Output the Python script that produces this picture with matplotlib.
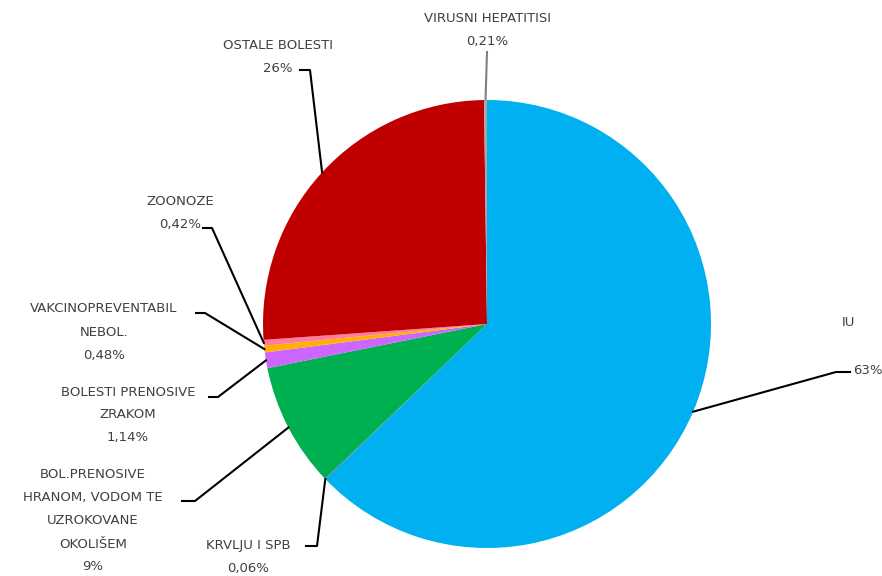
import numpy as np
import matplotlib.pyplot as plt

# share of reported cases by disease group
groups = ["IU", "KRVLJU I SPB", "BOL.PRENOSIVE\nHRANOM, VODOM TE\nUZROKOVANE\nOKOLIŠEM",
          "BOLESTI PRENOSIVE\nZRAKOM", "VAKCINOPREVENTABIL\nNEBOL.", "ZOONOZE",
          "OSTALE BOLESTI", "VIRUSNI HEPATITISI"]
shares = [63, 0.06, 9, 1.14, 0.48, 0.42, 26, 0.21]
share_labels = ["63%", "0,06%", "9%", "1,14%", "0,48%", "0,42%", "26%", "0,21%"]
colors = ["#00B0F0", "#2E75B6", "#00B050", "#CC66FF", "#FFB000", "#FF7C9C", "#C00000", "#A6A6A6"]

W, H = 882, 576
fig = plt.figure(figsize=(W / 100, H / 100), dpi=100)
ax = fig.add_axes([0, 0, 1, 1])

def px(x, y):
    # picture pixel coords -> data coords
    return x, H - y

cx, cy = px(487, 324)
R = 224
wedges, _ = ax.pie(shares, colors=colors, startangle=90, counterclock=False,
                   center=(cx, cy), radius=R, frame=True,
                   wedgeprops=dict(linewidth=0))
ax.set_xlim(0, W)
ax.set_ylim(0, H)
ax.set_aspect("equal")
ax.axis("off")

# text block centre, line start, elbow
label_pos = [
    ((848, 323), (850, 372), (836, 372)),
    ((248, 557), (306, 546), (317, 546)),
    ((93, 521), (182, 501), (195, 501)),
    ((128, 415), (209, 397), (218, 397)),
    ((104, 332), (196, 313), (205, 313)),
    ((180, 213), (203, 228), (212, 228)),
    ((278, 57), (300, 70), (310, 70)),
    ((487, 30), (487, 52), (487, 52)),
]

style = dict(ha="center", va="center", fontsize=9.5, color="#404040",
             linespacing=2.0, family="DejaVu Sans")

for i, w in enumerate(wedges):
    (tx, ty), p0, p1 = label_pos[i]
    if groups[i] == "IU":
        ax.text(*px(tx, ty), "IU", **style)
        ax.text(*px(868, 370), share_labels[i], **style)
    else:
        ax.text(*px(tx, ty), groups[i] + "\n" + share_labels[i], **style)
    a = np.deg2rad((w.theta1 + w.theta2) / 2)
    ex, ey = cx + R * np.cos(a), cy + R * np.sin(a)
    xs = [px(*p0)[0], px(*p1)[0], ex]
    ys = [px(*p0)[1], px(*p1)[1], ey]
    lc = "#808080" if i == 7 else "black"
    ax.plot(xs, ys, color=lc, linewidth=1.5, zorder=0 if i == 7 else 3)

fig.savefig("out.png", dpi=100)
